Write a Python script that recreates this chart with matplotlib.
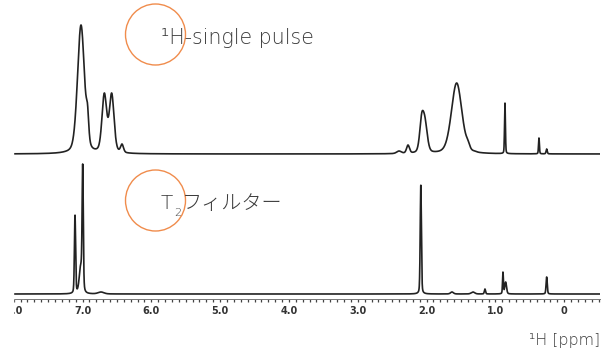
import matplotlib.pyplot as plt
import numpy as np
from matplotlib.patches import Ellipse, Rectangle

plt.rcParams['font.family'] = ['Noto Sans CJK JP', 'DejaVu Sans']

# 1H single pulse spectrum: peak shift (ppm), apex height, width (ppm)
top_shift = [7.022, 6.927, 6.683, 6.576, 6.426, 2.401, 2.270, 2.071, 2.023,
             1.563, 1.399, 1.297, 0.861, 0.367, 0.255]
top_height = [129, 50, 61, 61, 10, 3, 9, 41, 37, 71, 14, 3, 51, 16, 5]
top_width = [0.12, 0.04, 0.08, 0.08, 0.05, 0.08, 0.05, 0.07, 0.08,
             0.18, 0.06, 0.06, 0.015, 0.015, 0.02]

# T2 filter spectrum
bot_shift = [7.109, 7.026, 6.997, 6.731, 2.084, 1.631, 1.326, 1.152,
             0.890, 0.851, 0.255]
bot_height = [79, 30, 130, 2, 109, 2, 2, 5, 22, 12, 17]
bot_width = [0.02, 0.05, 0.02, 0.1, 0.02, 0.05, 0.06, 0.02, 0.015, 0.03, 0.02]

tick_pos = [8, 7, 6, 5, 4, 3, 2, 1, 0]
tick_labels = ["8.0", "7.0", "6.0", "5.0", "4.0", "3.0", "2.0", "1.0", "0"]


def shape(x, c, w, eta=0.3):
    u = (x - c) / w
    return eta / (1 + 4 * u ** 2) + (1 - eta) * np.exp(-4 * np.log(2) * u ** 2)


def spectrum(x, shifts, heights, widths):
    # amplitudes so that the apex values match the heights
    c = np.array(shifts)
    w = np.array(widths)
    m = np.array([[shape(ci, cj, wj) for cj, wj in zip(c, w)] for ci in c])
    a = np.clip(np.linalg.solve(m, np.array(heights, float)), 0, None)
    return sum(aj * shape(x, cj, wj) for aj, cj, wj in zip(a, c, w))


W, H = 609, 349
def box(x0, y0, x1, y1):
    return [x0 / W, 1 - y1 / H, (x1 - x0) / W, (y1 - y0) / H]


fig = plt.figure(figsize=(W / 100, H / 100), dpi=100)
ppm = np.linspace(8.01, -0.52, 6000)

ax_top = fig.add_axes(box(13, 0, 600, 160))
ax_top.plot(ppm, spectrum(ppm, top_shift, top_height, top_width), color='#222222', lw=1.2)
ax_top.set_xlim(8.01, -0.52)
ax_top.set_ylim(-6, 154)
ax_top.axis('off')

ax_bot = fig.add_axes(box(13, 160, 600, 299))
ax_bot.plot(ppm, spectrum(ppm, bot_shift, bot_height, bot_width), color='#222222', lw=1.2)
ax_bot.set_xlim(8.01, -0.52)
ax_bot.set_ylim(-5, 134)
for s in ['top', 'left', 'right']:
    ax_bot.spines[s].set_visible(False)
ax_bot.spines['bottom'].set_color('#777777')
ax_bot.spines['bottom'].set_linewidth(0.7)
ax_bot.set_yticks([])
ax_bot.set_xticks(tick_pos)
ax_bot.set_xticklabels(tick_labels)
ax_bot.set_xticks(np.arange(-0.5, 8.01, 0.1), minor=True)
ax_bot.tick_params(which='both', direction='out', length=2.5, width=0.9, color='#444444')
ax_bot.tick_params(axis='x', pad=2.5, labelsize=7, labelcolor='#333333')
for lab in ax_bot.get_xticklabels():
    lab.set_fontfamily('DejaVu Sans')
    lab.set_fontweight('bold')

# left edge of the scanned picture is cut off
fig.add_artist(Rectangle((0, 0), 13 / W, 1, transform=fig.transFigure,
                         color='white', zorder=10))

orange = '#F08C4C'
fig.add_artist(Ellipse((155.5 / W, 1 - 34.5 / H), 60 / W, 61 / H, transform=fig.transFigure,
                       fill=False, edgecolor=orange, lw=1))
fig.add_artist(Ellipse((155.5 / W, 1 - 200.5 / H), 60 / W, 61 / H, transform=fig.transFigure,
                       fill=False, edgecolor=orange, lw=1))

txt = '#3a3a3a'
latin = ['DejaVu Sans']
fig.text(161 / W, 1 - 44 / H, '¹H-single pulse', fontsize=14.8, color=txt, va='baseline',
         family=latin, weight='light')
fig.text(161 / W, 1 - 209 / H, 'T', fontsize=14.5, color=txt, va='baseline',
         family=latin, weight='light')
fig.text(174 / W, 1 - 216 / H, '2', fontsize=8, color=txt, va='baseline',
         family=latin, weight='light')
fig.text(182 / W, 1 - 209 / H, 'フィルター', fontsize=14.5, color=txt, va='baseline',
         weight='light')
fig.text(600 / W, 1 - 345 / H, '¹H [ppm]', fontsize=11.4, color=txt, ha='right', va='baseline',
         family=latin, weight='light')

fig.savefig('out.png', dpi=100)
